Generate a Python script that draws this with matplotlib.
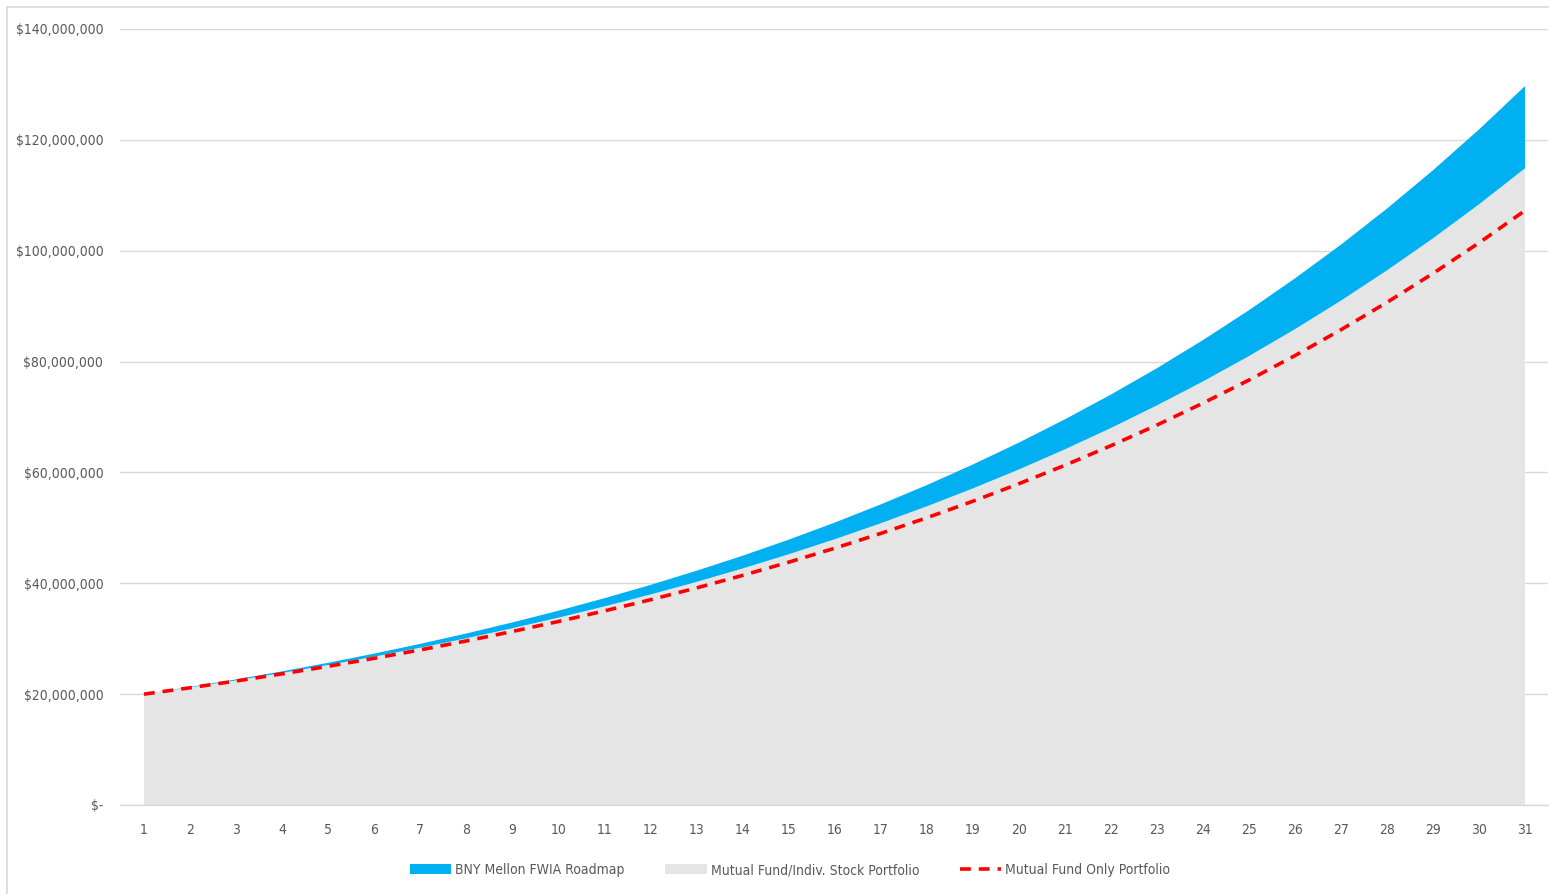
import matplotlib
matplotlib.use("Agg")
import matplotlib.pyplot as plt
from matplotlib.patches import Rectangle
from matplotlib.ticker import FuncFormatter
from matplotlib.lines import Line2D
from matplotlib.patches import Patch
import numpy as np

plt.rcParams['font.family'] = ['DejaVu Sans']
plt.rcParams['font.stretch'] = 'condensed'

years = list(range(1, 32))
# Mutual Fund/Indiv. Stock Portfolio ($M)
stock_portfolio = [20.00, 21.20, 22.47, 23.82, 25.25, 26.76, 28.37, 30.07, 31.88, 33.79,
                   35.82, 37.97, 40.24, 42.66, 45.22, 47.93, 50.81, 53.86, 57.09, 60.51,
                   64.14, 67.99, 72.07, 76.39, 80.97, 85.83, 90.98, 96.44, 102.22, 108.36, 114.87]
# BNY Mellon FWIA Roadmap total ($M) - top of stacked area
roadmap_total = [20.00, 21.29, 22.66, 24.11, 25.66, 27.31, 29.07, 30.94, 32.93, 35.04,
                 37.30, 39.69, 42.25, 44.96, 47.85, 50.93, 54.21, 57.69, 61.40, 65.35,
                 69.55, 74.02, 78.78, 83.85, 89.24, 94.98, 101.08, 107.58, 114.50, 121.86, 129.70]
# Mutual Fund Only Portfolio ($M)
mutual_only = [20.00, 21.15, 22.37, 23.66, 25.02, 26.46, 27.98, 29.59, 31.30, 33.10,
               35.01, 37.02, 39.15, 41.41, 43.79, 46.31, 48.98, 51.80, 54.78, 57.94,
               61.27, 64.80, 68.53, 72.48, 76.65, 81.06, 85.73, 90.67, 95.89, 101.41, 107.25]

labels = ["BNY Mellon FWIA Roadmap", "Mutual Fund/Indiv. Stock Portfolio", "Mutual Fund Only Portfolio"]

BLUE = "#00B0F0"
GREY = "#E5E5E5"
RED = "#FF0000"
TXT = "#595959"
GRID = "#D9D9D9"

W, H = 1549, 894
fig = plt.figure(figsize=(W / 100, H / 100), dpi=100)
ax = fig.add_axes([120 / W, (H - 805) / H, (1548 - 120) / W, (805 - 29) / H])

x = np.array(years)
grey_vals = np.array(stock_portfolio) * 1e6
blue_vals = (np.array(roadmap_total) - np.array(stock_portfolio)) * 1e6
red_vals = np.array(mutual_only) * 1e6

ax.stackplot(x, grey_vals, blue_vals, colors=[GREY, BLUE], linewidth=0, zorder=2)
ax.plot(x, red_vals, color=RED, linestyle=(0, (3, 2.2)), linewidth=2.6, zorder=3)

ax.set_xlim(0.48, 31.5)
ax.set_ylim(0, 140e6)
ax.set_xticks(years)
ax.set_yticks(np.arange(0, 140e6 + 1, 20e6))

def fmt(v, pos):
    if v == 0:
        return "$-"
    return "${:,.0f}".format(v)
ax.yaxis.set_major_formatter(FuncFormatter(fmt))

ax.grid(axis='y', color=GRID, linewidth=1, zorder=0)
ax.set_axisbelow(True)
for s in ['top', 'right', 'left']:
    ax.spines[s].set_visible(False)
ax.spines['bottom'].set_color(GRID)
ax.spines['bottom'].set_linewidth(1)
ax.tick_params(axis='both', length=0, colors=TXT, labelsize=10)
ax.tick_params(axis='y', pad=12)
ax.tick_params(axis='x', pad=13)

handles = [Patch(facecolor=BLUE, edgecolor='none'),
           Patch(facecolor=GREY, edgecolor='none'),
           Line2D([0], [0], color=RED, linestyle=(0, (3, 2.2)), linewidth=2.6)]
leg = fig.legend(handles, labels, loc='center', bbox_to_anchor=(790 / W, 1 - 870 / H),
                 ncol=3, frameon=False, fontsize=10, labelcolor=TXT,
                 handlelength=3.0, handleheight=0.8, columnspacing=2.9, handletextpad=0.3)

# outer chart border
fig.patches.append(Rectangle((7 / W, -0.01), 1.02, (H - 7) / H + 0.01, transform=fig.transFigure,
                             fill=False, edgecolor="#D9D9D9", linewidth=1.2))

fig.savefig("out.png", dpi=100)
